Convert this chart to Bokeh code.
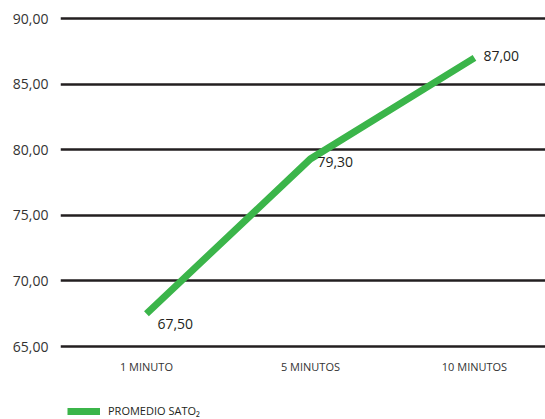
from bokeh.plotting import figure
from bokeh.models import (Range1d, FixedTicker, Legend, LegendItem, ColumnDataSource,
                          CustomJSTickFormatter)
from bokeh.core.properties import value
from bokeh.embed import file_html
from bokeh.resources import INLINE

# Data
categories = ["1 MINUTO", "5 MINUTOS", "10 MINUTOS"]
promedio_sato2 = [67.50, 79.30, 87.00]
y_ticks = [65, 70, 75, 80, 85, 90]
series_name = "PROMEDIO SATO\u2082"

GREEN = "#3bb54a"
DARK = "#231f20"
FONT = "Open Sans"

x_pos = list(range(len(categories)))
labels = [f"{v:.2f}".replace(".", ",") for v in promedio_sato2]

# frame runs to the bottom edge so the legend can sit inside it
p = figure(width=545, height=419, output_backend="svg", toolbar_location=None,
           x_range=Range1d(-0.524, 2.433), y_range=Range1d(59.44, 90.23),
           min_border_left=60, min_border_right=0, min_border_top=15,
           min_border_bottom=0, outline_line_color=None)

# y axis: comma decimal labels
p.yaxis.ticker = FixedTicker(ticks=y_ticks)
p.yaxis.formatter = CustomJSTickFormatter(code="return tick.toFixed(2).replace('.', ',');")
p.yaxis.axis_line_color = None
p.yaxis.major_tick_line_color = None
p.yaxis.minor_tick_line_color = None
p.yaxis.major_label_text_font = FONT
p.yaxis.major_label_text_font_size = "14px"
p.yaxis.major_label_text_color = "#333333"
p.yaxis.major_label_standoff = 6

# x axis: category names, pinned at the 65 line
p.xaxis.fixed_location = 65
p.xaxis.ticker = FixedTicker(ticks=x_pos)
p.xaxis.major_label_overrides = {i: c for i, c in enumerate(categories)}
p.xaxis.axis_line_color = None
p.xaxis.major_tick_line_color = None
p.xaxis.minor_tick_line_color = None
p.xaxis.major_label_text_font = FONT
p.xaxis.major_label_text_font_size = "11px"
p.xaxis.major_label_text_color = "#333333"
p.xaxis.major_label_standoff = 6

p.xgrid.grid_line_color = None
p.ygrid.ticker = FixedTicker(ticks=y_ticks)
p.ygrid.grid_line_color = DARK
p.ygrid.grid_line_width = 2.5

src = ColumnDataSource(dict(x=x_pos, y=promedio_sato2, label=labels,
                            dx=[11, 7, 9], dy=[10, 3, -2]))
line = p.line("x", "y", source=src, line_color=GREEN, line_width=7,
              line_join="miter")

p.text("x", "y", text="label", source=src, x_offset="dx", y_offset="dy",
       text_font=value(FONT), text_font_size="14px", text_color="#231f20",
       text_baseline="middle", text_align="left")

legend = Legend(items=[LegendItem(label=series_name, renderers=[line])],
                location=(7, 1), orientation="horizontal",
                label_text_font=FONT, label_text_font_size="11px",
                label_text_color="#231f20", glyph_width=33, glyph_height=14,
                label_height=14, border_line_color=None, background_fill_alpha=0,
                padding=0, margin=0, spacing=0, label_standoff=8)
p.add_layout(legend, "center")

open("out.html", "w").write(file_html(p, INLINE))
